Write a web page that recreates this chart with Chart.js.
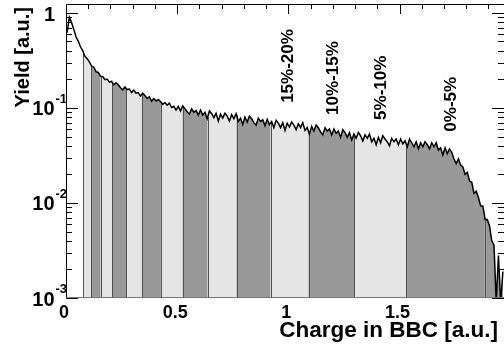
<!DOCTYPE html>
<html><head><meta charset="utf-8">
<script src="https://cdn.jsdelivr.net/npm/chart.js@4/dist/chart.umd.min.js"></script>
<style>html,body{margin:0;padding:0;background:#fff;overflow:hidden}canvas{display:block}</style>
</head><body>
<canvas id="c" width="504" height="345"></canvas>
<script>
// bin centres of the BBC charge histogram [a.u.]
const charge = [
0.005,0.015,0.025,0.035,0.045,0.055,0.065,0.075,0.085,0.095,
0.105,0.115,0.125,0.135,0.145,0.155,0.165,0.175,0.185,0.195,
0.205,0.215,0.225,0.235,0.245,0.255,0.265,0.275,0.285,0.295,
0.305,0.315,0.325,0.335,0.345,0.355,0.365,0.375,0.385,0.395,
0.405,0.415,0.425,0.435,0.445,0.455,0.465,0.475,0.485,0.495,
0.505,0.515,0.525,0.535,0.545,0.555,0.565,0.575,0.585,0.595,
0.605,0.615,0.625,0.635,0.645,0.655,0.665,0.675,0.685,0.695,
0.705,0.715,0.725,0.735,0.745,0.755,0.765,0.775,0.785,0.795,
0.805,0.815,0.825,0.835,0.845,0.855,0.865,0.875,0.885,0.895,
0.905,0.915,0.925,0.935,0.945,0.955,0.965,0.975,0.985,0.995,
1.005,1.015,1.025,1.035,1.045,1.055,1.065,1.075,1.085,1.095,
1.105,1.115,1.125,1.135,1.145,1.155,1.165,1.175,1.185,1.195,
1.205,1.215,1.225,1.235,1.245,1.255,1.265,1.275,1.285,1.295,
1.305,1.315,1.325,1.335,1.345,1.355,1.365,1.375,1.385,1.395,
1.405,1.415,1.425,1.435,1.445,1.455,1.465,1.475,1.485,1.495,
1.505,1.515,1.525,1.535,1.545,1.555,1.565,1.575,1.585,1.595,
1.605,1.615,1.625,1.635,1.645,1.655,1.665,1.675,1.685,1.695,
1.705,1.715,1.725,1.735,1.745,1.755,1.765,1.775,1.785,1.795,
1.805,1.815,1.825,1.835,1.845,1.855,1.865,1.875,1.885,1.895,
1.905,1.915,1.925,1.935,1.945,1.955,1.965];

// yield per bin [a.u.]
const yieldValues = [
0.62,0.90,0.79,0.67,0.56,0.505,0.44,0.40,0.35,0.33,
0.305,0.276,0.268,0.241,0.236,0.216,0.214,0.198,0.201,0.187,
0.190,0.175,0.184,0.175,0.163,0.155,0.166,0.156,0.158,0.145,
0.154,0.143,0.145,0.133,0.143,0.135,0.126,0.131,0.118,0.125,
0.118,0.123,0.117,0.109,0.114,0.107,0.112,0.101,0.104,0.095,
0.104,0.093,0.105,0.098,0.091,0.086,0.098,0.090,0.094,0.084,
0.095,0.084,0.090,0.077,0.093,0.087,0.079,0.088,0.073,0.086,
0.078,0.088,0.082,0.073,0.085,0.077,0.087,0.072,0.078,0.067,
0.080,0.071,0.082,0.077,0.070,0.066,0.078,0.072,0.075,0.065,
0.076,0.067,0.072,0.062,0.074,0.069,0.062,0.070,0.058,0.069,
0.063,0.071,0.066,0.059,0.068,0.062,0.070,0.058,0.062,0.053,
0.064,0.057,0.066,0.062,0.056,0.052,0.062,0.057,0.060,0.052,
0.060,0.054,0.057,0.049,0.059,0.055,0.049,0.055,0.046,0.053,
0.048,0.055,0.051,0.045,0.052,0.048,0.053,0.044,0.048,0.041,
0.049,0.043,0.051,0.047,0.044,0.040,0.048,0.044,0.047,0.041,
0.047,0.042,0.045,0.039,0.047,0.043,0.039,0.044,0.037,0.043,
0.039,0.044,0.041,0.037,0.043,0.039,0.043,0.036,0.038,0.032,
0.038,0.033,0.037,0.034,0.029,0.026,0.029,0.025,0.024,0.020,
0.021,0.017,0.0165,0.0126,0.0133,0.0114,0.0093,0.0093,0.0067,0.0067,
0.0057,0.0040,0.0036,0.0009,0.0028,0.0009,0.0019];

// centrality class boundaries in charge, and the shade of each class
const bandEdges = [0.078,0.114,0.156,0.207,0.272,0.341,0.427,0.525,0.637,0.767,0.920,1.091,1.296,1.530,1.884,2.0];
const bandShades = ['light','dark','light','dark','light','dark','light','dark','light','dark','light','dark','light','dark','dark'];

// class labels and where they sit (charge, yield at start of text)
const centralityLabels = ['15%-20%','10%-15%','5%-10%','0%-5%'];
const centralityLabelX = [0.998,1.203,1.417,1.732];
const centralityLabelY = [0.113,0.0844,0.0748,0.0563];

const xTickValues = [0,0.5,1,1.5];
const xTickLabels = ['0','0.5','1','1.5'];
const xMinorStep = 0.1;
const yDecades = [0.001,0.01,0.1,1];
const yExponents = ['-3','-2','-1',''];

const FONT = '"Liberation Sans", Arial, Helvetica, sans-serif';
const SHADE = {light:'#e5e5e5', dark:'#999999'};

const deco = {
  id:'deco',
  beforeDatasetsDraw(chart){
    const {ctx, chartArea:a, scales:{x}} = chart;
    const pts = chart.getDatasetMeta(0).data;
    ctx.save();
    bandShades.forEach((s,i)=>{
      const x0 = x.getPixelForValue(bandEdges[i]);
      const x1 = x.getPixelForValue(bandEdges[i+1]);
      ctx.save();
      ctx.beginPath(); ctx.rect(x0, a.top, x1-x0, a.bottom-a.top); ctx.clip();
      ctx.beginPath();
      ctx.moveTo(pts[0].x, a.bottom);
      pts.forEach(p=>ctx.lineTo(p.x, Math.min(p.y, a.bottom+5)));
      ctx.lineTo(pts[pts.length-1].x, a.bottom);
      ctx.closePath();
      ctx.fillStyle = SHADE[s];
      ctx.fill();
      ctx.restore();
    });
    ctx.strokeStyle = '#505050'; ctx.lineWidth = 1;
    bandEdges.slice(0,-1).forEach(e=>{
      const px = x.getPixelForValue(e);
      let k = pts.findIndex(p=>p.x>=px);
      if (k<1) k = 1;
      const p0 = pts[k-1], p1 = pts[k];
      const t = (px-p0.x)/(p1.x-p0.x);
      const xx = Math.round(px)+0.5;
      ctx.beginPath(); ctx.moveTo(xx, a.bottom); ctx.lineTo(xx, Math.max(a.top, p0.y+(p1.y-p0.y)*t)); ctx.stroke();
    });
    ctx.restore();
  },
  afterDatasetsDraw(chart){
    const {ctx, chartArea:a, scales:{x,y}} = chart;
    ctx.save();
    // frame
    ctx.lineWidth = 1;
    ctx.strokeStyle = '#000';
    ctx.beginPath();
    ctx.moveTo(a.left+0.5, a.bottom); ctx.lineTo(a.left+0.5, a.top+0.5); ctx.lineTo(a.right, a.top+0.5);
    ctx.stroke();
    ctx.strokeStyle = '#777';
    ctx.beginPath(); ctx.moveTo(a.left, a.bottom-0.5); ctx.lineTo(a.right, a.bottom-0.5); ctx.stroke();
    ctx.strokeStyle = '#000';
    // top ticks
    ctx.beginPath();
    for (let v = xMinorStep; v < x.max; v += xMinorStep) {
      const r = Math.round(v*10)/10;
      const major = xTickValues.some(t=>Math.abs(t-r)<1e-6);
      const px = Math.round(x.getPixelForValue(r))+0.5;
      ctx.moveTo(px, a.top); ctx.lineTo(px, a.top + (major?10:5));
    }
    ctx.stroke();
    // left & right ticks
    ctx.beginPath();
    yDecades.forEach(d=>{
      for (let m=1; m<10; m++){
        const v = d*m;
        if (v > y.max) break;
        const py = Math.round(y.getPixelForValue(v))+0.5;
        const len = m===1?12:6;
        ctx.moveTo(a.left, py); ctx.lineTo(a.left+len, py);
        ctx.moveTo(a.right, py); ctx.lineTo(a.right-len, py);
      }
    });
    ctx.stroke();
    // y tick labels
    ctx.fillStyle = '#000';
    yDecades.forEach((d,i)=>{
      const py = y.getPixelForValue(d);
      ctx.textAlign = 'right'; ctx.textBaseline = 'middle';
      if (yExponents[i] === '') {
        ctx.font = 'bold 20px ' + FONT;
        ctx.fillText('1', a.left-11, py+3);
      } else {
        ctx.font = 'bold 20px ' + FONT;
        ctx.fillText('10', a.left-11.5, py+2);
        ctx.font = 'bold 13px ' + FONT;
        ctx.textAlign = 'left';
        ctx.fillText(yExponents[i], a.left-10.5, py-8.5);
      }
    });
    // x tick labels
    ctx.font = 'bold 18px ' + FONT;
    ctx.textAlign = 'center'; ctx.textBaseline = 'alphabetic';
    xTickValues.forEach((v,i)=>{
      ctx.fillText(xTickLabels[i], x.getPixelForValue(v)-2, a.bottom+20);
    });
    // axis titles
    ctx.font = 'bold 22.5px ' + FONT;
    ctx.textAlign = 'right';
    ctx.fillText('Charge in BBC [a.u.]', a.right-6, a.bottom+39);
    ctx.save();
    ctx.translate(29, 7); ctx.rotate(-Math.PI/2);
    ctx.font = 'bold 20px ' + FONT;
    ctx.textAlign = 'right';
    ctx.fillText('Yield [a.u.]', 0, 0);
    ctx.restore();
    // centrality labels
    ctx.font = 'bold 17px ' + FONT;
    centralityLabels.forEach((t,i)=>{
      ctx.save();
      ctx.translate(x.getPixelForValue(centralityLabelX[i]), y.getPixelForValue(centralityLabelY[i]));
      ctx.rotate(-Math.PI/2);
      ctx.textAlign = 'left'; ctx.textBaseline = 'middle';
      ctx.fillText(t, 0, 0);
      ctx.restore();
    });
    ctx.restore();
  }
};

new Chart(document.getElementById('c'), {
  type: 'line',
  data: {
    datasets: [{
      data: charge.map((c,i)=>({x:c, y:yieldValues[i]})),
      borderColor: '#000',
      borderWidth: 1.5,
      pointRadius: 0,
      fill: false,
      tension: 0
    }]
  },
  options: {
    responsive: false,
    animation: false,
    devicePixelRatio: 1,
    layout: {padding: {left:66, right:0, top:4, bottom:47}},
    plugins: {legend:{display:false}, tooltip:{enabled:false}},
    scales: {
      x: {type:'linear', min:0, max:1.97, display:false},
      y: {type:'logarithmic', min:0.001, max:1.24, display:false}
    }
  },
  plugins: [deco]
});
</script>
</body></html>
